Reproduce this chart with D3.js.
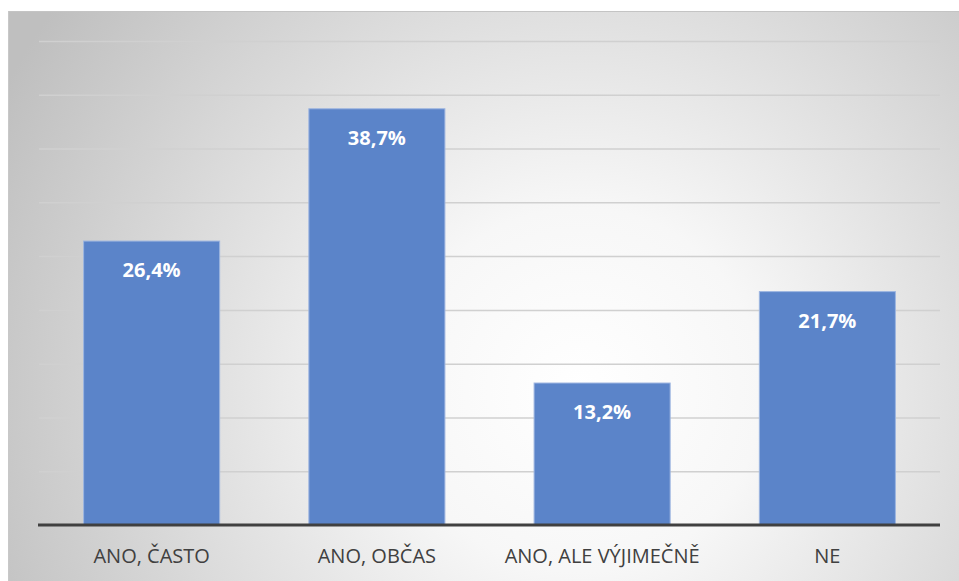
<!DOCTYPE html>
<html><head><meta charset="utf-8">
<script src="https://cdn.jsdelivr.net/npm/d3@7"></script>
<style>html,body{margin:0;padding:0;background:#fff;}svg{display:block;}</style>
</head><body>
<svg id="c" width="959" height="581"></svg>
<script>
const categories = ["ANO, ČASTO", "ANO, OBČAS", "ANO, ALE VÝJIMEČNĚ", "NE"];
const values = [26.4, 38.7, 13.2, 21.7];
const labels = ["26,4%", "38,7%", "13,2%", "21,7%"];
const yTicks = [5, 10, 15, 20, 25, 30, 35, 40, 45];

(function(){
const svg = d3.select("#c");
const defs = svg.append("defs");
const grad = defs.append("radialGradient").attr("id","bg")
  .attr("gradientUnits","userSpaceOnUse")
  .attr("cx",580).attr("cy",390).attr("r",650);
grad.append("stop").attr("offset",0).attr("stop-color","#ffffff");
grad.append("stop").attr("offset",0.28).attr("stop-color","#f7f7f7");
grad.append("stop").attr("offset",1).attr("stop-color","#bfbfbf");

svg.append("rect").attr("x",8).attr("y",11).attr("width",951).attr("height",570).attr("fill","url(#bg)");
svg.append("line").attr("x1",8).attr("x2",959).attr("y1",11.5).attr("y2",11.5).attr("stroke","#c4c4c4").attr("stroke-width",1);
svg.append("line").attr("x1",8.5).attr("x2",8.5).attr("y1",11).attr("y2",581).attr("stroke","#c8c8c8").attr("stroke-width",1);

const mLeft = 39, mRight = 940, mTop = 41, mBottom = 525;
const x = d3.scaleBand().domain(categories).range([mLeft, mRight]).paddingInner(0.396).paddingOuter(0.198);
const y = d3.scaleLinear().domain([0, 45]).range([mBottom, mTop]);

const grid = svg.append("g").attr("transform", `translate(${mLeft},0)`)
  .call(d3.axisLeft(y).tickValues(yTicks).tickSize(-(mRight-mLeft)).tickFormat(""));
grid.select(".domain").remove();
grid.selectAll(".tick line").attr("stroke","#d0d0d0").attr("stroke-width",1.5);

svg.append("g").selectAll("rect").data(values).join("rect")
  .attr("x",(d,i)=>x(categories[i])).attr("width",x.bandwidth())
  .attr("y",d=>y(d)).attr("height",d=>mBottom-y(d))
  .attr("fill","#5b84c9").attr("stroke","#9db5e0").attr("stroke-width",1);

svg.append("g").selectAll("text").data(values).join("text")
  .attr("x",(d,i)=>x(categories[i])+x.bandwidth()/2)
  .attr("y",d=>y(d)+36)
  .attr("text-anchor","middle").attr("fill","#ffffff")
  .attr("font-family","'Open Sans', 'Liberation Sans', sans-serif").attr("font-weight","bold").attr("font-size",20)
  .text((d,i)=>labels[i]);

const xa = svg.append("g").attr("transform",`translate(0,${mBottom})`).call(d3.axisBottom(x).tickSize(0));
xa.select(".domain").attr("stroke","#404040").attr("stroke-width",3).attr("d",`M${mLeft-1},0H${mRight}`);
xa.selectAll("text").attr("fill","#404040").attr("font-size",20)
  .attr("font-family","'Open Sans', 'Liberation Sans', sans-serif")
  .attr("y",38).attr("dy",0);
})();
</script>
</body></html>
